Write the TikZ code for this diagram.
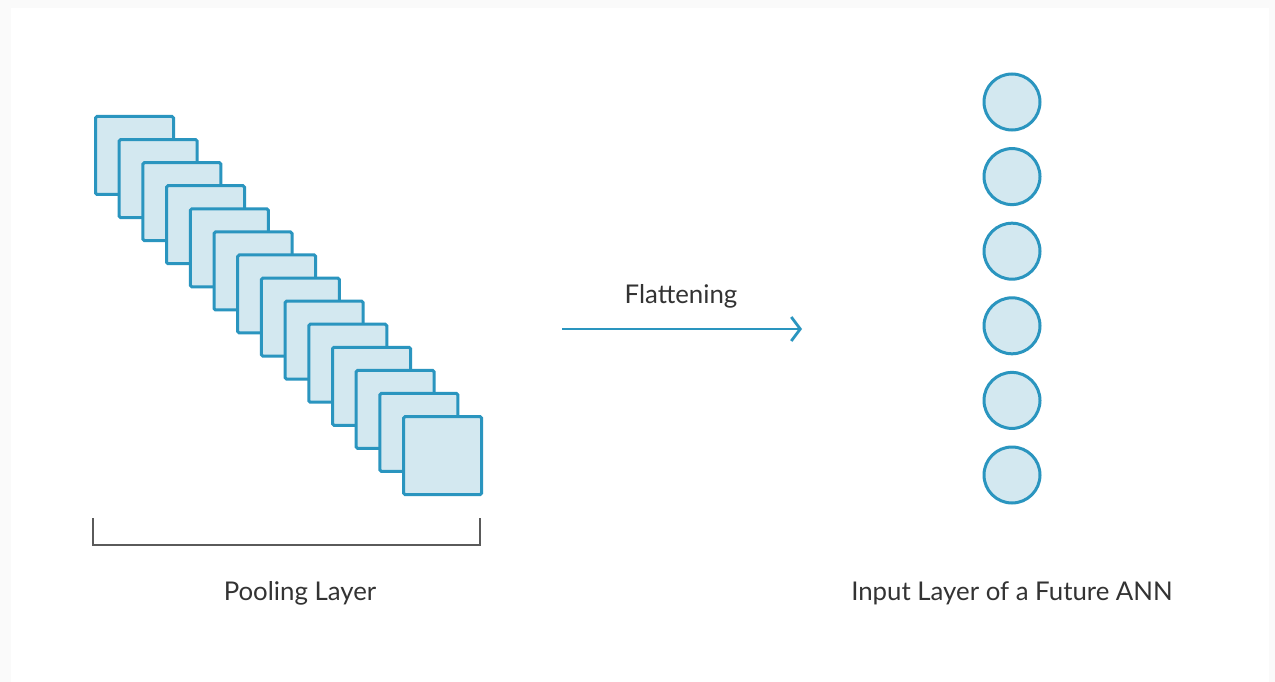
\documentclass[tikz,border=0pt]{standalone}
\usepackage{fontspec}
\setmainfont{Lato}
\usetikzlibrary{arrows.meta}
\definecolor{mapblue}{HTML}{2A95BF}
\definecolor{mapfill}{HTML}{D3E8F0}
\definecolor{txtgray}{HTML}{333333}
\definecolor{brgray}{HTML}{5A5A5A}

\begin{document}
\begin{tikzpicture}[x=1pt,y=-1pt,
  mapbox/.style={draw=mapblue,fill=mapfill,line width=3pt,rounded corners=1.5pt,minimum size=78pt,inner sep=0pt},
  neuron/.style={circle,draw=mapblue,fill=mapfill,line width=3pt,minimum size=56pt,inner sep=0pt},
  caption/.style={text=txtgray,font=\fontsize{25.8}{30}\selectfont}]
\fill[black!2] (0,0) rectangle (1275,682);
\fill[white] (11,8) rectangle (1269,682);
\useasboundingbox (0,0) rectangle (1275,682);

\foreach \i in {0,...,13}
  \node[mapbox] (map\i) at (134.5+23.7*\i,155.5+23.08*\i) {};

\foreach \i in {0,...,5}
  \node[neuron] (in\i) at (1012,102+74.6*\i) {};

\coordinate (flatA) at (562,329);
\coordinate (flatB) at (802,329);
\draw[mapblue,line width=2.8pt,-{Straight Barb[length=9pt,width=24pt]}] (flatA) -- (flatB);
\node[caption] (flatlabel) at (681,296) {Flattening};

\coordinate (brL) at (93,518);
\coordinate (brR) at (480,518);
\draw[brgray,line width=1.3pt] (brL) -- ++(0,27) -| (brR);

\node[caption] (poollabel) at (300,593) {Pooling Layer};
\node[caption] (annlabel) at (1012,593) {Input Layer of a Future ANN};
\end{tikzpicture}
\end{document}
